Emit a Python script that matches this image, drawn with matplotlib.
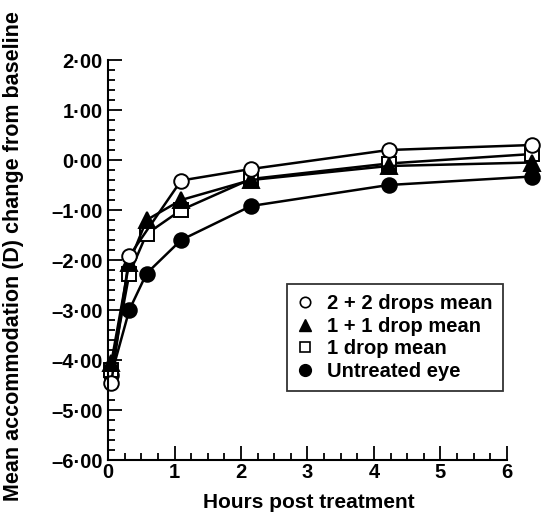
import numpy as np
import matplotlib
matplotlib.use('Agg')
import matplotlib.pyplot as plt
from matplotlib.lines import Line2D
from matplotlib.ticker import MultipleLocator, FuncFormatter

plt.rcParams['font.family'] = ['Liberation Sans', 'DejaVu Sans']
plt.rcParams['font.weight'] = 'bold'

# Hours as they sit against the printed axis
hours = [0.05, 0.32, 0.58, 1.1, 2.15, 4.22, 6.38]
hours_22 = [0.05, 0.32, 1.1, 2.15, 4.22, 6.38]

drops_22 = [-4.45, -1.92, -0.41, -0.18, 0.20, 0.30]
drops_11 = [-4.05, -2.05, -1.20, -0.80, -0.40, -0.12, -0.05]
drops_1 = [-4.20, -2.28, -1.48, -1.00, -0.38, -0.07, 0.12]
untreated = [-4.30, -3.00, -2.27, -1.60, -0.92, -0.50, -0.33]

labels = ['2 + 2 drops mean', '1 + 1 drop mean', '1 drop mean', 'Untreated eye']

fig = plt.figure(figsize=(5.46, 5.13), dpi=100)
ax = fig.add_axes([108 / 546, 53 / 513, 399 / 546, 400 / 513])

line_kw = dict(color='black', lw=1.8, clip_on=False, markeredgewidth=1.4)
ax.plot(hours, untreated, marker='o', ms=10.5, mfc='black', mec='black', **line_kw)
ax.plot(hours, drops_1, marker='s', ms=9.5, mfc='white', mec='black', **line_kw)
ax.plot(hours, drops_11, marker='^', ms=11, mfc='black', mec='black', **line_kw)
ax.plot(hours_22, drops_22, marker='o', ms=10.5, mfc='white', mec='black', **line_kw)

ax.set_xlim(0, 6)
ax.set_ylim(-6, 2)

for side in ['top', 'right']:
    ax.spines[side].set_visible(False)
for side in ['left', 'bottom']:
    ax.spines[side].set_linewidth(1.5)

ax.xaxis.set_major_locator(MultipleLocator(1))
ax.xaxis.set_minor_locator(MultipleLocator(0.25))
ax.yaxis.set_major_locator(MultipleLocator(1))
ax.yaxis.set_minor_locator(MultipleLocator(0.2))


def fmt_y(v, pos):
    s = f'{abs(v):.2f}'.replace('.', '\u00b7')
    return ('\u2013' + s) if v < -1e-9 else s


ax.yaxis.set_major_formatter(FuncFormatter(fmt_y))
ax.tick_params(which='both', direction='in', width=1.3, labelsize=14.5)
ax.tick_params(which='major', length=10)
ax.tick_params(which='minor', length=5)
ax.tick_params(axis='y', pad=4)
ax.tick_params(axis='x', pad=2)

ax.set_xlabel('Hours post treatment', fontsize=15, fontweight='bold')
ax.xaxis.set_label_coords(0.504, -0.083)
ax.set_ylabel('Mean accommodation (D) change from baseline', fontsize=15.5, fontweight='bold')
ax.yaxis.set_label_coords(-0.21, 0.51)

handles = [
    Line2D([], [], ls='none', marker='o', ms=7.5, mfc='white', mec='black', mew=1.2),
    Line2D([], [], ls='none', marker='^', ms=8.5, mfc='black', mec='black'),
    Line2D([], [], ls='none', marker='s', ms=7, mfc='white', mec='black', mew=1.2),
    Line2D([], [], ls='none', marker='o', ms=8.5, mfc='black', mec='black'),
]
leg = ax.legend(handles, labels, loc='upper left', bbox_to_anchor=(0.449, 0.44),
                borderaxespad=0, frameon=True, fancybox=False, fontsize=14.5,
                handlelength=0.8, handletextpad=0.7, labelspacing=0.18,
                borderpad=0.5)
leg.get_frame().set_edgecolor('black')
leg.get_frame().set_linewidth(1.3)

fig.savefig('out.png', dpi=100)
